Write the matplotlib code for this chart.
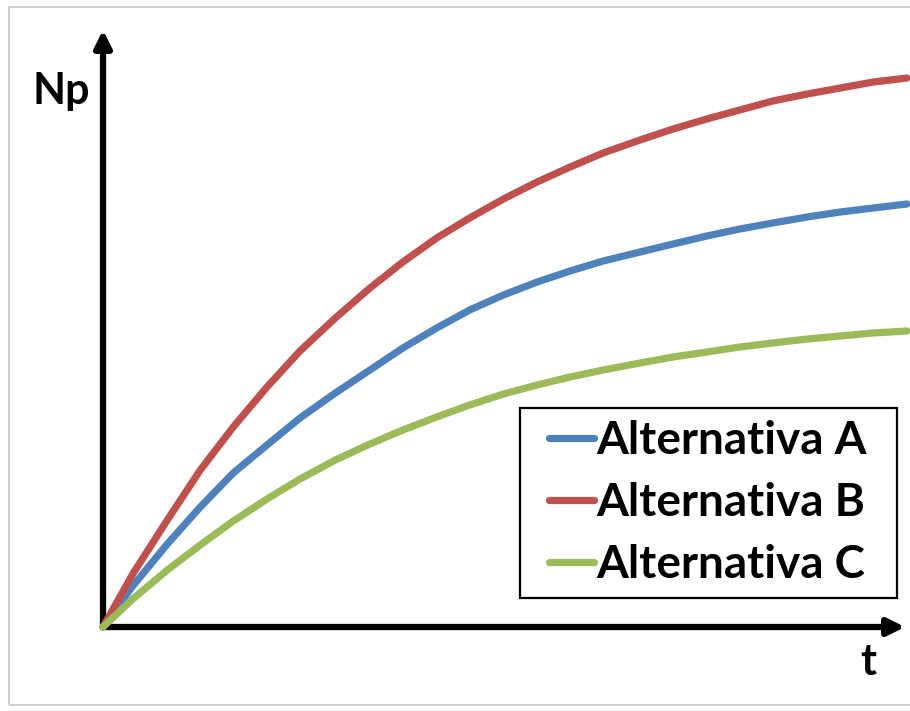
import matplotlib
matplotlib.use("Agg")
import matplotlib.pyplot as plt
from matplotlib.lines import Line2D

# ---- data (arbitrary units) ----
t = [0, 3.7, 8.0, 12.1, 16.2, 20.4, 24.5, 28.9, 33.2, 37.3, 41.5, 45.6, 49.8,
     54.0, 58.1, 62.2, 66.8, 70.9, 75.1, 79.2, 83.3, 87.6, 91.7, 95.8, 100]
np_a = [0, 41, 83, 120, 154, 182, 209, 234, 257, 279, 299, 317, 332,
        345, 356, 366, 375, 383, 391, 398, 404, 410, 415, 419, 423]
np_b = [0, 53, 107, 157, 200, 240, 276, 309, 339, 365, 389, 409, 428,
        445, 460, 474, 487, 498, 508, 517, 526, 533, 539, 545, 549]
np_c = [0, 28, 57, 82, 106, 128, 148, 167, 183, 197, 210, 222, 233,
        242, 250, 257, 264, 270, 275, 280, 284, 288, 291, 294, 296]
labels = ["Alternativa A", "Alternativa B", "Alternativa C"]
colors = ["#4F81BD", "#C0504D", "#9BBB59"]

W, H = 910, 711
fig = plt.figure(figsize=(W / 100, H / 100), dpi=100)
fig.patch.set_facecolor("white")

# light grey outer frame
frame = plt.Rectangle((9 / W, 1 - 705 / H), (W + 10 - 9) / W, (705 - 7) / H,
                      transform=fig.transFigure, fill=False,
                      edgecolor="#C8C8C8", linewidth=1.2)
fig.add_artist(frame)

x0, x1 = 103, 910
y0, y1 = 627, 30
ax = fig.add_axes([x0 / W, 1 - y0 / H, (x1 - x0) / W, (y0 - y1) / H])
ax.set_xlim(0, (x1 - x0) * 100 / 804)
ax.set_ylim(0, y0 - y1)
for s in ax.spines.values():
    s.set_visible(False)
ax.set_xticks([])
ax.set_yticks([])
ax.patch.set_alpha(0)

# axis arrows
arrow_kw = dict(arrowstyle="-|>,head_length=1.0,head_width=0.5", color="black",
                lw=4.5, shrinkA=0, shrinkB=0)
ax.annotate("", xy=(0, 1), xytext=(0, 0), xycoords="axes fraction",
            arrowprops=arrow_kw, annotation_clip=False, zorder=1)
ax.annotate("", xy=((905 - x0) / (x1 - x0), 0), xytext=(0, 0),
            xycoords="axes fraction", arrowprops=arrow_kw,
            annotation_clip=False, zorder=1)

lw = 5.2
for ys, c, lab in zip([np_a, np_b, np_c], colors, labels):
    ax.plot(t, ys, color=c, lw=lw, label=lab, solid_capstyle="round",
            solid_joinstyle="round", zorder=3, clip_on=False)

font = "Lato"
fig.text(33 / W, 1 - 104 / H, "Np", fontsize=31, fontweight="bold",
         family=font, ha="left", va="baseline")
fig.text(868 / W, 1 - 675 / H, "t", fontsize=31, fontweight="bold",
         family=font, ha="center", va="baseline")

# legend box (drawn separately so that its padding matches the reference)
box = plt.Rectangle((520 / W, 1 - 598 / H), (897 - 520) / W, (598 - 408) / H,
                    transform=fig.transFigure, facecolor="white",
                    edgecolor="black", linewidth=1.6, zorder=4)
fig.add_artist(box)

handles = [Line2D([], [], color=c, lw=lw, solid_capstyle="round") for c in colors]
leg = fig.legend(handles, labels, loc="center left",
                 bbox_to_anchor=(549 / W, 1 - 503 / H),
                 bbox_transform=fig.transFigure, borderaxespad=0,
                 frameon=False, handlelength=0.98, handletextpad=0.05,
                 labelspacing=0.445, borderpad=0,
                 prop=dict(family=font, weight="bold", size=33))
leg.set_zorder(5)

fig.savefig("out.png", dpi=100, facecolor="white")
